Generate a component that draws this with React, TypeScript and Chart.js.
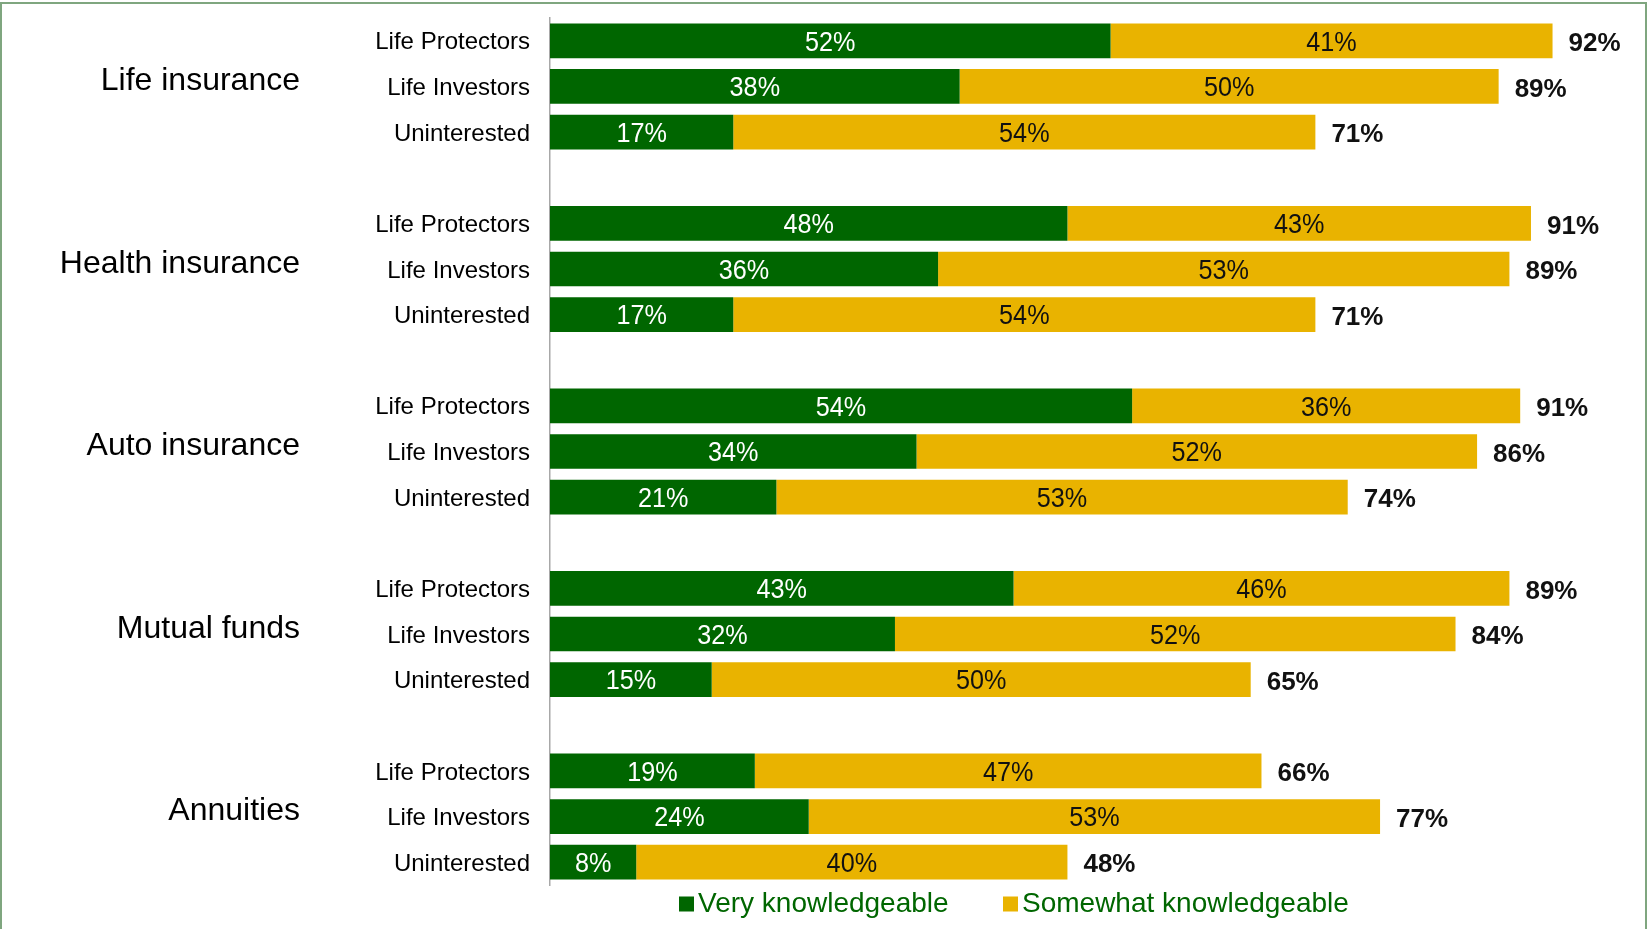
import { useEffect, useRef } from 'react';
import { Chart, registerables } from 'chart.js';

Chart.register(...registerables);

const groups = ['Life insurance', 'Health insurance', 'Auto insurance', 'Mutual funds', 'Annuities'];
const segments = ['Life Protectors', 'Life Investors', 'Uninterested'];
const seriesNames = ['Very knowledgeable', 'Somewhat knowledgeable'];
const veryKnowledgeable = [52, 38, 17, 48, 36, 17, 54, 34, 21, 43, 32, 15, 19, 24, 8];
const somewhatKnowledgeable = [41, 50, 54, 43, 53, 54, 36, 52, 53, 46, 52, 50, 47, 53, 40];
const totals = [92, 89, 71, 91, 89, 71, 91, 86, 74, 89, 84, 65, 66, 77, 48];

const GREEN = '#006600';
const YELLOW = '#E9B300';
const FONT = '"Liberation Sans", Arial, sans-serif';

// Build category rows with a blank spacer row between groups
const rowLabels: string[] = [];
const rowVery: (number | null)[] = [];
const rowSome: (number | null)[] = [];
const rowTotal: (number | null)[] = [];
const groupMiddleRow: number[] = [];
groups.forEach((g, gi) => {
  segments.forEach((s, si) => {
    const k = gi * segments.length + si;
    if (si === 1) groupMiddleRow.push(rowLabels.length);
    rowLabels.push(s);
    rowVery.push(veryKnowledgeable[k]);
    rowSome.push(somewhatKnowledgeable[k]);
    rowTotal.push(totals[k]);
  });
  if (gi < groups.length - 1) {
    rowLabels.push('');
    rowVery.push(null);
    rowSome.push(null);
    rowTotal.push(null);
  }
});

function drawText(ctx: CanvasRenderingContext2D, text: string, x: number, y: number, font: string, align: CanvasTextAlign, color: string, sx = 1) {
  ctx.save();
  ctx.translate(x, y);
  ctx.scale(sx, 1);
  ctx.font = font;
  ctx.textAlign = align;
  ctx.textBaseline = 'middle';
  ctx.fillStyle = color;
  ctx.fillText(text, 0, 0);
  ctx.restore();
}

const labelPlugin = {
  id: 'customLabels',
  afterDatasetsDraw(chart: any) {
    const ctx = chart.ctx;
    const m0 = chart.getDatasetMeta(0);
    const m1 = chart.getDatasetMeta(1);
    for (let i = 0; i < rowLabels.length; i++) {
      if (rowVery[i] == null) continue;
      const b0 = m0.data[i];
      const b1 = m1.data[i];
      drawText(ctx, `${rowVery[i]}%`, (b0.base + b0.x) / 2, b0.y + 2, `28px ${FONT}`, 'center', '#ffffff', 0.9);
      drawText(ctx, `${rowSome[i]}%`, (b1.base + b1.x) / 2, b1.y + 2, `28px ${FONT}`, 'center', '#111111', 0.9);
      drawText(ctx, `${rowTotal[i]}%`, b1.x + 16, b1.y + 3, `bold 26px ${FONT}`, 'left', '#111111');
    }
    // group labels
    const yScale = chart.scales.y;
    groups.forEach((g, gi) => {
      const y = yScale.getPixelForValue(groupMiddleRow[gi]) - 5;
      drawText(ctx, g, 300, y, `32px ${FONT}`, 'right', '#000000');
    });
    // legend
    const legendY = 904;
    const items = [
      { x: 679, color: GREEN, text: seriesNames[0] },
      { x: 1003, color: YELLOW, text: seriesNames[1] },
    ];
    items.forEach((it) => {
      ctx.fillStyle = it.color;
      ctx.fillRect(it.x, legendY - 7.5, 15, 15);
      drawText(ctx, it.text, it.x + 19, legendY, `28px ${FONT}`, 'left', '#006600');
    });
  },
};

export default function App() {
  const ref = useRef<HTMLCanvasElement>(null);
  useEffect(() => {
    document.body.style.margin = '0';
    const chart = new Chart(ref.current!, {
      type: 'bar',
      data: {
        labels: rowLabels,
        datasets: [
          { label: seriesNames[0], data: rowVery, backgroundColor: GREEN, borderWidth: 0 },
          { label: seriesNames[1], data: rowSome, backgroundColor: YELLOW, borderWidth: 0 },
        ],
      },
      options: {
        indexAxis: 'y',
        animation: false,
        responsive: false,
        layout: { padding: { left: 0, right: 19, top: 18, bottom: 44 } },
        datasets: { bar: { categoryPercentage: 1, barPercentage: 0.76 } },
        plugins: { legend: { display: false }, tooltip: { enabled: false } },
        scales: {
          x: { stacked: true, min: 0, max: 100, display: false },
          y: {
            stacked: true,
            afterFit: (scale: any) => {
              scale.width = 550;
              scale.paddingTop = 0;
              scale.paddingBottom = 0;
            },
            grid: { display: false, drawTicks: false },
            border: { display: true, color: '#A8A8A8', width: 1.5 },
            ticks: {
              autoSkip: false,
              padding: 20,
              labelOffset: 2,
              color: '#000000',
              font: { family: FONT, size: 24 },
            },
          },
        },
      },
      plugins: [labelPlugin],
    });
    return () => chart.destroy();
  }, []);
  return (
    <div style={{ position: 'relative', width: 1647, height: 929, overflow: 'hidden', background: '#fff' }}>
      <canvas ref={ref} width={1647} height={929} style={{ position: 'absolute', left: 0, top: 0 }} />
      <div
        style={{
          position: 'absolute',
          left: 0,
          top: 2,
          width: 1647,
          height: 1000,
          border: '2px solid #7FA67F',
          boxSizing: 'border-box',
          pointerEvents: 'none',
        }}
      />
    </div>
  );
}
